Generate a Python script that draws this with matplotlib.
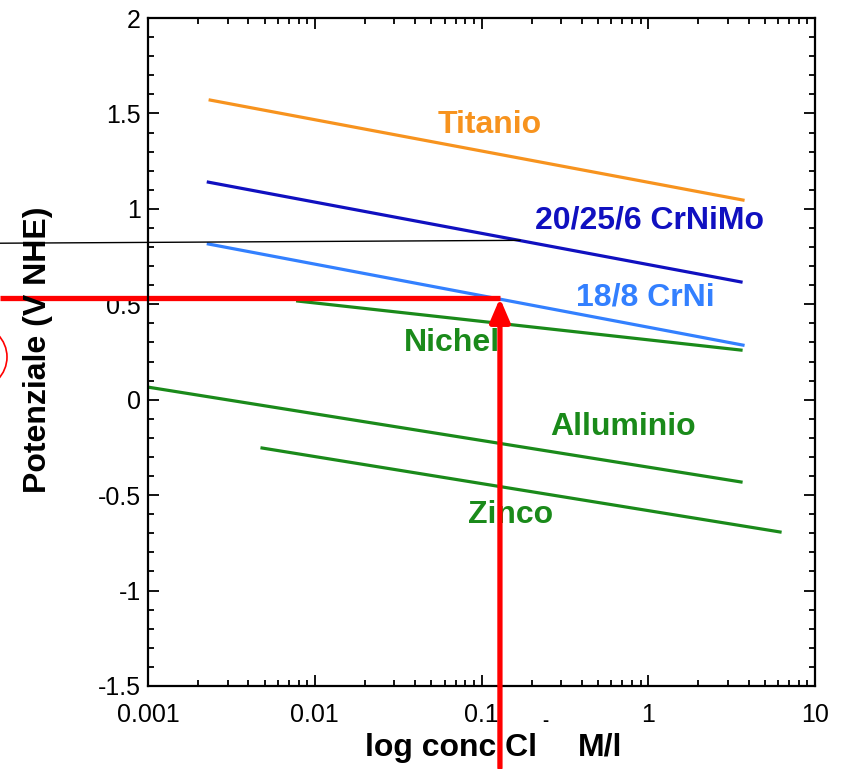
import numpy as np
import matplotlib
matplotlib.use('Agg')
from matplotlib import pyplot as plt
from matplotlib.patches import Ellipse
from matplotlib.ticker import FixedLocator, FuncFormatter, MultipleLocator

plt.rcParams['font.family'] = ['Liberation Sans', 'DejaVu Sans']
plt.rcParams['axes.unicode_minus'] = False

###########
# Data    #
###########

# each metal: (x start, x end) in mol/l, (y start, y end) in V NHE
titanio_x = [0.00236, 3.7]
titanio_y = [1.57, 1.046]
crnimo_x = [0.0023, 3.6]
crnimo_y = [1.14, 0.617]
crni_x = [0.0023, 3.7]
crni_y = [0.816, 0.286]
nichel_x = [0.0079, 3.6]
nichel_y = [0.517, 0.26]
alluminio_x = [0.001, 3.6]
alluminio_y = [0.066, -0.431]
zinco_x = [0.00483, 6.17]
zinco_y = [-0.253, -0.693]

# reading guide
black_x = [0.000129, 0.170]
black_y = [0.82, 0.835]
red_x = [0.000129, 0.129]
red_y = [0.532, 0.532]
arrow_x = 0.129
arrow_y0 = -1.93

labels = ['Titanio', '20/25/6 CrNiMo', '18/8 CrNi', 'Nichel', 'Alluminio', 'Zinco']
label_x = [0.112, 1.02, 0.956, 0.0665, 0.706, 0.150]
label_y = [1.439, 0.94, 0.533, 0.297, -0.143, -0.604]

xticks = [0.001, 0.01, 0.1, 1, 10]
xticklabels = ['0.001', '0.01', '0.1', '1', '10']
yticks = [-1.5, -1, -0.5, 0, 0.5, 1, 1.5, 2]

orange = '#F7931E'
dblue = '#1010C0'
lblue = '#3380FF'
green = '#1A8A1A'
red = '#FF0000'

#########
# Plot  #
#########

fig = plt.figure(figsize=(8.41, 7.69), dpi=100)
ax = fig.add_axes([148 / 841, 1 - 686 / 769, 667 / 841, 668 / 769])
ax.set_xscale('log')
ax.set_xlim(0.001, 10)
ax.set_ylim(-1.5, 2)

lw = 2.3
ax.plot(titanio_x, titanio_y, color=orange, lw=lw)
ax.plot(crnimo_x, crnimo_y, color=dblue, lw=lw)
ax.plot(crni_x, crni_y, color=lblue, lw=lw)
ax.plot(nichel_x, nichel_y, color=green, lw=lw)
ax.plot(alluminio_x, alluminio_y, color=green, lw=lw)
ax.plot(zinco_x, zinco_y, color=green, lw=lw)

colors = [orange, dblue, lblue, green, green, green]
for lab, lx, ly, c in zip(labels, label_x, label_y, colors):
    ax.text(lx, ly, lab, color=c, fontsize=23, fontweight='bold', ha='center', va='center')

ax.plot(black_x, black_y, color='black', lw=1, clip_on=False)
ax.plot(red_x, red_y, color=red, lw=3.8, clip_on=False, solid_capstyle='butt')
ax.annotate('', xy=(arrow_x, red_y[0]), xytext=(arrow_x, arrow_y0),
            arrowprops=dict(arrowstyle='-|>,head_length=1.4,head_width=0.6', color=red, lw=3.8,
                            shrinkA=0, shrinkB=0),
            annotation_clip=False)

fig.add_artist(Ellipse((-25 / 841, 1 - 357 / 769), 64 / 841, 64 / 769, transform=fig.transFigure,
                       fill=False, edgecolor=red, lw=1.2, clip_on=False))

ax.xaxis.set_major_locator(FixedLocator(xticks))
ax.xaxis.set_major_formatter(FuncFormatter(lambda v, p: xticklabels[xticks.index(v)] if v in xticks else ''))
ax.set_yticks(yticks)
ax.yaxis.set_major_formatter(FuncFormatter(lambda v, p: '%g' % v))
ax.yaxis.set_minor_locator(MultipleLocator(0.1))
ax.tick_params(which='both', direction='in', top=True, right=True, labelsize=18, width=1.3)
ax.tick_params(which='major', length=8)
ax.tick_params(axis='x', which='major', pad=12)
ax.tick_params(axis='y', which='major', pad=5)
ax.tick_params(which='minor', length=4)
for s in ax.spines.values():
    s.set_linewidth(1.6)

fig.text(38 / 841, 1 - 350 / 769, 'Potenziale (V NHE)', rotation=90, fontsize=23, fontweight='bold',
         ha='center', va='center')
fig.text(537 / 841, 1 - 748 / 769, 'log conc Cl', fontsize=23, fontweight='bold', ha='right', va='center')
fig.text(545 / 841, 1 - 722 / 769, '-', fontsize=13, fontweight='bold', ha='center', va='center')
fig.text(578 / 841, 1 - 748 / 769, 'M/l', fontsize=23, fontweight='bold', ha='left', va='center')

plt.savefig('out.png', dpi=100)
